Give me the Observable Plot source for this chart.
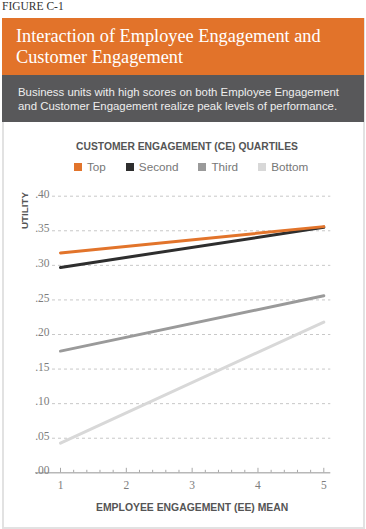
<!DOCTYPE html>
<html><head><meta charset="utf-8">
<script src="https://cdn.jsdelivr.net/npm/d3@7"></script>
<script src="https://cdn.jsdelivr.net/npm/@observablehq/plot@0.6"></script>
<style>
html,body{margin:0;padding:0;background:#fff;}
body{width:366px;height:529px;position:relative;overflow:hidden;font-family:"Liberation Sans",Arial,sans-serif;}
#fig{position:absolute;left:2px;top:0.3px;font:11.5px/13px "Liberation Serif","Times New Roman",serif;color:#333;white-space:nowrap;}
#box{position:absolute;left:2px;top:18px;width:363px;height:511px;border:2px solid #e2e2e2;border-top:none;box-sizing:border-box;}
#head{position:absolute;left:2px;top:18px;width:362px;height:57px;background:#E2732A;color:#fff;box-sizing:border-box;padding:7.7px 0 0 14px;font:18.3px/21.6px "Liberation Serif","Times New Roman",serif;white-space:nowrap;}
#sub{position:absolute;left:2px;top:75px;width:362px;height:47.3px;background:#58585a;color:#eeeeee;box-sizing:border-box;padding:9.6px 0 0 16px;font:11.4px/14.3px "Liberation Sans",Arial,sans-serif;white-space:nowrap;}
#ltitle{position:absolute;left:0;top:141.4px;width:374px;text-align:center;font:bold 10.3px/12px "Liberation Sans",Arial,sans-serif;color:#555;white-space:nowrap;}
#legend{position:absolute;left:74px;top:159.6px;display:flex;gap:20px;font:11.7px/14px "Liberation Sans",Arial,sans-serif;color:#777;white-space:nowrap;}
#legend .item{display:flex;align-items:center;}
#legend .sw{width:8px;height:8px;margin-right:5px;display:inline-block;}
#chart{position:absolute;left:0;top:180px;}
</style></head><body>
<div id="fig">FIGURE C-1</div>
<div id="box"></div>
<div id="head">Interaction of Employee Engagement and<br>Customer Engagement</div>
<div id="sub">Business units with high scores on both Employee Engagement<br>and Customer Engagement realize peak levels of performance.</div>
<div id="ltitle">CUSTOMER ENGAGEMENT (CE) QUARTILES</div>
<div id="legend"></div>
<div id="chart"></div>
<script>
// Series (customer engagement quartiles) and their colours
const series = ["Top", "Second", "Third", "Bottom"];
const seriesColors = ["#E2742B", "#2E2E2E", "#9A9A9A", "#D8D8D8"];
// Employee engagement mean (x) values
const eeMean = [1, 5];
// Utility values per series at each EE mean
const topUtility = [0.318, 0.356];
const secondUtility = [0.297, 0.355];
const thirdUtility = [0.176, 0.256];
const bottomUtility = [0.043, 0.218];
// Tick values
const yTicks = [0, 0.05, 0.10, 0.15, 0.20, 0.25, 0.30, 0.35, 0.40];
const xTicks = [1, 2, 3, 4, 5];
const minorTicks = d3.range(1, 5, 0.2).filter(v => Math.abs(v - Math.round(v)) > 1e-6);

const valuesBySeries = [topUtility, secondUtility, thirdUtility, bottomUtility];
// Draw bottom first so Top sits on top
const data = [];
for (let k = series.length - 1; k >= 0; k--) {
  eeMean.forEach((x, i) => data.push({series: series[k], ee: x, utility: valuesBySeries[k][i]}));
}

// Legend
const legend = document.getElementById("legend");
series.forEach((s, i) => {
  const it = document.createElement("span");
  it.className = "item";
  const sw = document.createElement("span");
  sw.className = "sw";
  sw.style.background = seriesColors[i];
  it.appendChild(sw);
  it.appendChild(document.createTextNode(s));
  legend.appendChild(it);
});

const serif = "'Liberation Serif','Times New Roman',serif";
const fmt = d => d3.format(".2f")(d).replace(/^0/, "");

const chart = Plot.plot({
  width: 366,
  height: 340,
  marginLeft: 60,
  marginRight: 42.7,
  marginTop: 15.7,
  marginBottom: 47.7,
  style: {fontFamily: "'Liberation Sans',Arial,sans-serif", background: "transparent", overflow: "visible"},
  x: {domain: [1, 5]},
  y: {domain: [0, 0.4]},
  color: {domain: series, range: seriesColors},
  marks: [
    Plot.ruleY(yTicks.filter(d => d > 0), {stroke: "#c8c8c8", strokeDasharray: "3,3", insetLeft: -8, insetRight: -7}),
    Plot.ruleY([0], {stroke: "#b8b8b8", strokeWidth: 1.5, insetLeft: -25, insetRight: -7}),
    Plot.ruleX(minorTicks, {y1: 0, y2: 0, insetTop: -2.5, stroke: "#a8a8a8"}),
    Plot.ruleX(xTicks, {y1: 0, y2: 0, insetTop: -4.5, stroke: "#a8a8a8"}),
    Plot.axisY({ticks: yTicks, tickSize: 0, tickPadding: 11, tickFormat: fmt, fontFamily: serif, fontSize: 11.5, color: "#7d7d7d", dy: -2, label: null}),
    Plot.axisX({ticks: xTicks, tickSize: 0, tickPadding: 8, tickFormat: d => String(d), fontFamily: serif, fontSize: 11.5, color: "#7d7d7d", label: null}),
    Plot.line(data, {x: "ee", y: "utility", stroke: "series", z: "series", strokeWidth: 3}),
    Plot.text(["UTILITY"], {frameAnchor: "top-left", text: d => d, rotate: -90, dx: -35.8, dy: 14.3, textAnchor: "middle", lineAnchor: "middle", fontWeight: "bold", fontSize: 9.8, fill: "#555"}),
    Plot.text(["EMPLOYEE ENGAGEMENT (EE) MEAN"], {frameAnchor: "bottom", text: d => d, dy: 34.4, lineAnchor: "middle", fontWeight: "bold", fontSize: 10.4, fill: "#555"})
  ]
});
document.getElementById("chart").appendChild(chart);
</script>
</body></html>
